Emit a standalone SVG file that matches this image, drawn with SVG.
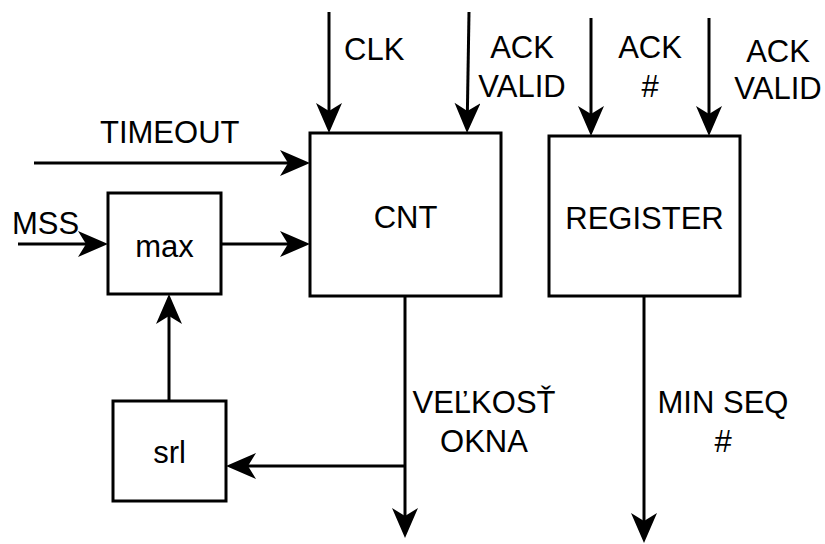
<svg xmlns="http://www.w3.org/2000/svg" width="825" height="544" viewBox="0 0 825 544">
  <style>
    .box { fill: #fff; stroke: #000; stroke-width: 3; }
    .wire { fill: none; stroke: #000; stroke-width: 3; marker-end: url(#arrow); }
    text { font-family: "Liberation Sans", Arial, sans-serif; font-size: 31px; fill: #000; }
    .mid { text-anchor: middle; }
  </style>
  <defs>
    <!-- classic notched arrowhead; reference point at the notch, tip 22px ahead -->
    <marker id="arrow" markerUnits="userSpaceOnUse" markerWidth="32" markerHeight="28" viewBox="0 0 32 28" refX="9" refY="13" orient="auto">
      <path d="M1,0 L31,13 L1,26 L9,13 Z" fill="#000"/>
    </marker>
  </defs>
  <rect width="825" height="544" fill="#fff"/>

  <!-- connectors -->
  <g id="connectors">
    <path class="wire" d="M329,12 V111"/>
    <path class="wire" d="M469,12 L467.4,111"/>
    <path class="wire" d="M591,18 V114"/>
    <path class="wire" d="M709,18 V114"/>
    <path class="wire" d="M34,163 H288"/>
    <path class="wire" d="M18,244 H86"/>
    <path class="wire" d="M221,244 H288"/>
    <path class="wire" d="M169,401 V316"/>
    <path class="wire" d="M405,296 V516"/>
    <path class="wire" d="M405,466 H248"/>
    <path class="wire" d="M644,296 V521"/>
  </g>

  <!-- signal labels -->
  <g id="labels">
    <text x="344" y="60">CLK</text>
    <text class="mid" x="522" y="58">ACK</text>
    <text class="mid" x="522" y="97">VALID</text>
    <text class="mid" x="650" y="58">ACK</text>
    <text class="mid" x="650" y="97">#</text>
    <text class="mid" x="778" y="62">ACK</text>
    <text class="mid" x="778" y="99">VALID</text>
    <text x="100" y="143">TIMEOUT</text>
    <text x="12" y="234">MSS</text>
    <text class="mid" x="484" y="413">VEĽKOSŤ</text>
    <text class="mid" x="484" y="452">OKNA</text>
    <text class="mid" x="723" y="413">MIN SEQ</text>
    <text class="mid" x="723" y="452">#</text>
  </g>

  <g id="cnt">
    <rect class="box" x="310" y="133" width="191" height="163"/>
    <text class="mid" x="405.5" y="228">CNT</text>
  </g>
  <g id="register">
    <rect class="box" x="549" y="136" width="191" height="160"/>
    <text class="mid" x="644.5" y="229">REGISTER</text>
  </g>
  <g id="max">
    <rect class="box" x="108" y="193" width="113" height="101"/>
    <text class="mid" x="164.5" y="257">max</text>
  </g>
  <g id="srl">
    <rect class="box" x="113" y="401" width="113" height="100"/>
    <text class="mid" x="169.5" y="463">srl</text>
  </g>
</svg>
